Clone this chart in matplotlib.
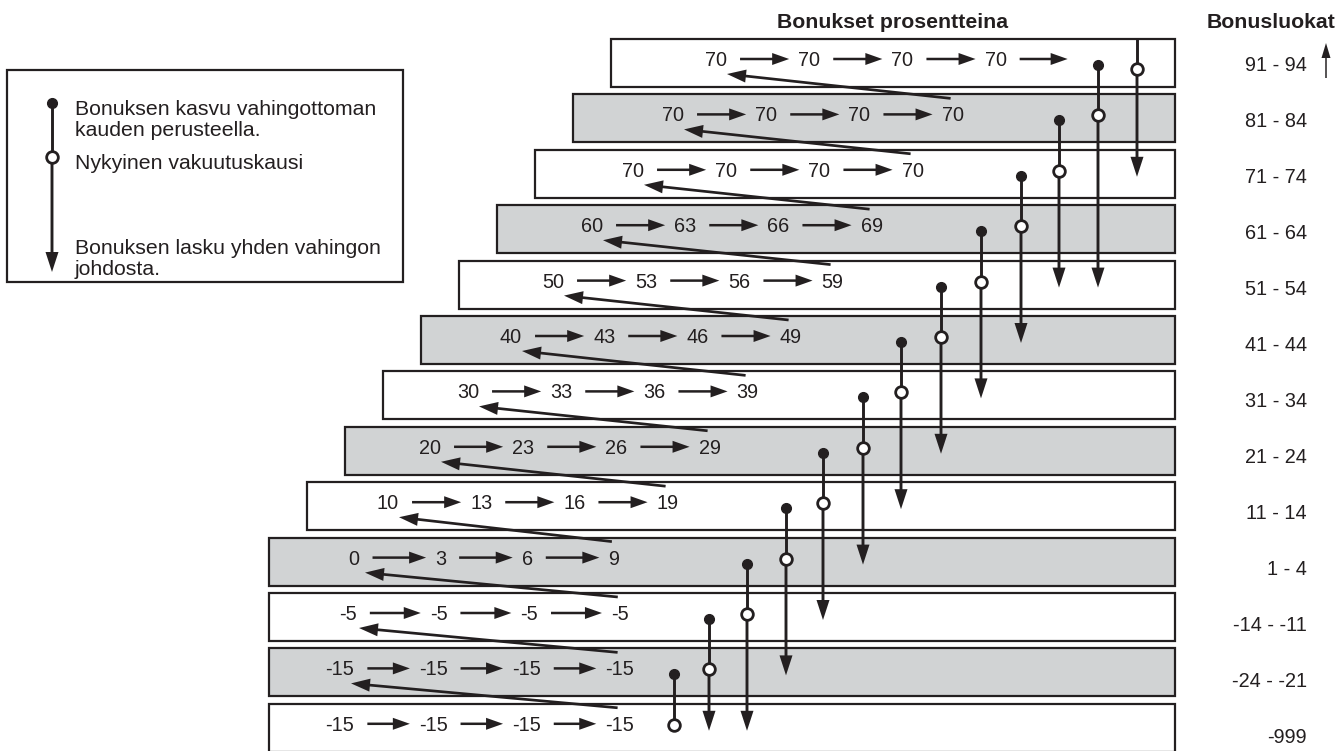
import matplotlib.pyplot as plt
from matplotlib.patches import Rectangle

# DATA
bonus_classes = ["91 - 94", "81 - 84", "71 - 74", "61 - 64", "51 - 54", "41 - 44",
                 "31 - 34", "21 - 24", "11 - 14", "1 - 4", "-14 - -11", "-24 - -21", "-999"]
bonus_percent = [
    [70, 70, 70, 70],
    [70, 70, 70, 70],
    [70, 70, 70, 70],
    [60, 63, 66, 69],
    [50, 53, 56, 59],
    [40, 43, 46, 49],
    [30, 33, 36, 39],
    [20, 23, 26, 29],
    [10, 13, 16, 19],
    [0, 3, 6, 9],
    [-5, -5, -5, -5],
    [-15, -15, -15, -15],
    [-15, -15, -15, -15],
]
# class index after one claim (None = lowest class)
claim_drop = [2, 4, 4, 5, 6, 7, 8, 9, 10, 11, 12, 12, None]

header_left = "Bonukset prosentteina"
header_right = "Bonusluokat"
legend_lines = ["Bonuksen kasvu vahingottoman", "kauden perusteella.",
                "Nykyinen vakuutuskausi", "Bonuksen lasku yhden vahingon", "johdosta."]

# LAYOUT (pixel units)
INK = "#231f20"
GREY = "#d1d3d4"
FONT = ["Liberation Sans", "DejaVu Sans"]
FS = 14.3
EM = FS * 100 / 72
ROW_TOP0, ROW_STEP, ROW_H = 39, 55.4, 48
BOX_RIGHT = 1175
first_center = [716, 673, 633, 592, 553, 511, 468, 430, 388, 354, 348, 340, 340]
stem_x = [1137, 1098, 1059, 1021, 981, 941, 901, 863, 823, 786, 747, 709, 674]

plt.rcParams['font.family'] = FONT

fig = plt.figure(figsize=(13.43, 7.51), dpi=100)
ax = fig.add_axes([0, 0, 1, 1])
ax.set_xlim(0, 1343)
ax.set_ylim(751, 0)
ax.axis('off')


def text_width(s):
    return sum(0.333 * EM if c == '-' else 0.556 * EM for c in s)


def arrow(x0, y0, x1, y1, w=2.5, hw=12, hl=17, z=4):
    ax.arrow(x0, y0, x1 - x0, y1 - y0, width=w, head_width=hw, head_length=hl,
             length_includes_head=True, fc=INK, ec='none', lw=0, zorder=z)


def row_top(r):
    return ROW_TOP0 + ROW_STEP * r


# rows
n = len(bonus_classes)
centers = []
for r in range(n):
    top = row_top(r)
    left_edge = 611 - 38 * min(r, 9)
    ax.add_patch(Rectangle((left_edge, top), BOX_RIGHT - left_edge, ROW_H,
                           facecolor=GREY if r % 2 else "white",
                           edgecolor=INK, lw=1.6, zorder=1))
    ty = top + 20
    vals = [str(v) for v in bonus_percent[r]]
    ws = [text_width(s) for s in vals]
    step = 80 + 0.6 * min(max(ws), 22)
    row_c = [first_center[r] + step * i for i in range(len(vals))]
    for i, s in enumerate(vals):
        ax.text(row_c[i], ty + 7, s, ha='center', va='baseline', fontsize=FS,
                color=INK, zorder=5)
        x0 = row_c[i] + ws[i] / 2 + 13
        if i < len(vals) - 1:
            arrow(x0, ty, row_c[i + 1] - ws[i + 1] / 2 - 9, ty)
        elif r == 0:
            arrow(x0, ty, x0 + 48, ty)
    centers.append((row_c, ty))

# diagonal arrows: last value of lower class -> first value of upper class
for r in range(n - 1):
    lc, _ = centers[r + 1]
    uc, uty = centers[r]
    arrow(lc[-1] - 2, row_top(r + 1) + 4, uc[0] + 11, uty + 15, w=2.7, hw=13, hl=19)

# class stems
for r in range(n):
    x = stem_x[r]
    if r == 0:
        y_top = row_top(0)
        y_c = row_top(0) + 30
    else:
        y_top = row_top(r - 1) + 26
        y_c = row_top(r) + 21
        ax.plot(x, y_top, 'o', ms=7, color=INK, zorder=7)
    ax.plot([x, x], [y_top, y_c], color=INK, lw=2.1, zorder=6, solid_capstyle='butt')
    tgt = claim_drop[r]
    if tgt is not None:
        arrow(x, y_c, x, row_top(tgt) + 27, w=2.9, hw=13, hl=20, z=6)
    ax.plot(x, y_c, 'o', ms=8.4, mfc='white', mec=INK, mew=2.0, zorder=8)

# class labels
for r, lab in enumerate(bonus_classes):
    ax.text(1307, 64 + 56 * r + 7, lab, ha='right', va='baseline', fontsize=FS, color=INK)

# headers
ax.text(893, 28, header_left, ha='center', va='baseline', fontsize=15.3,
        fontweight='bold', color=INK)
ax.text(1271, 28, header_right, ha='center', va='baseline', fontsize=15.3,
        fontweight='bold', color=INK)
arrow(1326, 78, 1326, 43, w=1.5, hw=9, hl=15)

# legend
ax.add_patch(Rectangle((7, 70), 396, 212, facecolor='white', edgecolor=INK, lw=1.6))
ax.plot([52, 52], [103, 157], color=INK, lw=2.1)
arrow(52, 157, 52, 272, w=2.9, hw=13, hl=20, z=3)
ax.plot(52, 103, 'o', ms=7, color=INK, zorder=4)
ax.plot(52, 157, 'o', ms=8.4, mfc='white', mec=INK, mew=2.0, zorder=4)
for s, y in zip(legend_lines, [108, 129, 162, 247, 268]):
    ax.text(75, y + 7, s, ha='left', va='baseline', fontsize=15.3, color=INK)

fig.savefig("out.png", dpi=100)
